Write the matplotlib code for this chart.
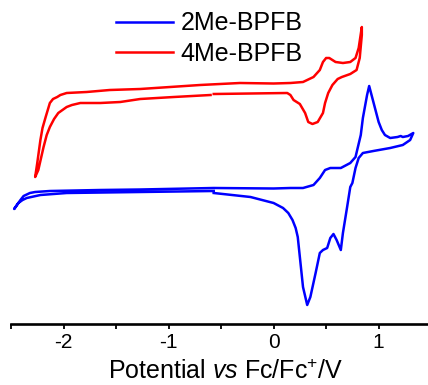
"""
cv_bpfb.py -- cyclic voltammograms of 2Me-BPFB and 4Me-BPFB (vs Fc/Fc+).
Currents are in arbitrary units; the y axis is hidden.
"""
import matplotlib
matplotlib.use("Agg")
import matplotlib.pyplot as plt
from matplotlib.ticker import MultipleLocator

plt.rcParams["font.family"] = ["Liberation Sans", "DejaVu Sans"]
plt.rcParams["mathtext.fontset"] = "custom"
plt.rcParams["mathtext.rm"] = "Liberation Sans"
plt.rcParams["mathtext.it"] = "Liberation Sans:italic"
plt.rcParams["axes.unicode_minus"] = False

# 2Me-BPFB: scan starts at -0.57 V, goes positive, reverses at 1.33 V,
# runs to -2.47 V and comes back to the start
e_2me = [-0.57, -0.22, 0.00, 0.09, 0.14, 0.18, 0.21, 0.23, 0.25, 0.28,
         0.32, 0.35, 0.40, 0.44, 0.47, 0.51, 0.54, 0.57, 0.60, 0.64,
         0.66, 0.70, 0.73, 0.75, 0.78, 0.81, 0.85, 0.95, 1.11, 1.23,
         1.30, 1.33,
         1.28, 1.23, 1.21, 1.18, 1.11, 1.06, 1.03, 1.00, 0.95, 0.91,
         0.89, 0.85, 0.83, 0.78, 0.73, 0.64, 0.54, 0.49, 0.44, 0.38,
         0.28, 0.16, 0.00, -0.57, -1.27, -1.65, -2.13, -2.27, -2.32,
         -2.38, -2.41, -2.47,
         -2.43, -2.39, -2.35, -2.22, -1.97, -1.27, -0.57]
i_2me = [13.1, 12.7, 12.1, 11.6, 11.1, 10.4, 9.6, 8.7, 6.7, 3.7,
         1.9, 2.7, 5.1, 7.1, 7.4, 7.6, 8.6, 9.0, 8.4, 7.4,
         9.1, 11.7, 13.7, 14.1, 15.6, 16.6, 17.1, 17.3, 17.6, 17.9,
         18.4, 19.1,
         18.8, 18.7, 18.8, 18.7, 18.6, 18.9, 19.4, 20.2, 22.2, 23.8,
         22.9, 20.6, 18.9, 16.7, 16.1, 15.6, 15.6, 15.4, 14.6, 13.9,
         13.6, 13.6, 13.55, 13.6, 13.45, 13.4, 13.3, 13.2, 13.1,
         12.8, 12.4, 11.5,
         12.1, 12.4, 12.6, 12.9, 13.1, 13.2, 13.3]

# 4Me-BPFB: same protocol, window -2.27 V to 0.84 V
e_4me = [-0.57, -0.22, 0.13, 0.16, 0.19, 0.25, 0.30, 0.33, 0.37, 0.42,
         0.47, 0.49, 0.52, 0.56, 0.61, 0.65, 0.73, 0.79, 0.82, 0.84,
         0.84, 0.81, 0.78, 0.73, 0.66, 0.59, 0.53, 0.50, 0.47, 0.44,
         0.38, 0.28, 0.16, 0.00, -0.32, -0.70, -1.27, -1.56, -1.78,
         -1.97, -2.03, -2.06, -2.10, -2.13, -2.17, -2.20, -2.22, -2.25,
         -2.27,
         -2.24, -2.19, -2.16, -2.13, -2.09, -2.05, -2.01, -1.97, -1.92,
         -1.84, -1.65, -1.46, -1.27, -0.95, -0.60]
i_4me = [23.0, 23.05, 23.1, 22.9, 22.4, 22.0, 21.1, 20.2, 20.0, 20.2,
         21.1, 22.1, 23.1, 23.9, 24.5, 24.7, 25.0, 25.4, 26.6, 28.9,
         29.7, 27.6, 26.6, 26.2, 26.1, 26.2, 26.6, 26.6, 26.2, 25.4,
         24.7, 24.2, 24.1, 24.05, 24.1, 23.9, 23.5, 23.4, 23.2,
         23.1, 22.9, 22.7, 22.5, 22.1, 20.7, 19.6, 18.4, 16.1,
         14.7,
         15.4, 17.7, 18.9, 19.7, 20.5, 21.1, 21.4, 21.7, 21.9,
         22.1, 22.1, 22.2, 22.5, 22.7, 22.9]

labels = ["2Me-BPFB", "4Me-BPFB"]
colors = ["#0000ff", "#ff0000"]

fig = plt.figure(figsize=(4.28, 3.85), dpi=100)
ax = fig.add_axes([11 / 428, 61 / 385, 417 / 428, 324 / 385])

for e, i, lab, c in zip([e_2me, e_4me], [i_2me, i_4me], labels, colors):
    ax.plot(e, i, color=c, lw=1.8, label=lab, solid_joinstyle="round")

ax.set_xlim(-2.5, 1.47)
ax.set_ylim(0, 32.4)
ax.xaxis.set_major_locator(MultipleLocator(1))
ax.xaxis.set_minor_locator(MultipleLocator(0.5))
ax.tick_params(axis="x", which="both", direction="out", length=3.8,
               width=1.3, labelsize=15, pad=3)
ax.set_yticks([])
for side in ("left", "right", "top"):
    ax.spines[side].set_visible(False)
ax.spines["bottom"].set_linewidth(1.9)

ax.set_xlabel(r"Potential $\mathit{vs}$ Fc/Fc$^{+}$/V", fontsize=18)
ax.xaxis.set_label_coords((226 - 11) / 417, -0.11)

fig.legend(loc="upper left", bbox_to_anchor=(114 / 428, 1 - 9 / 385),
           frameon=False, fontsize=18, handlelength=2.25,
           handletextpad=0.3, labelspacing=0.25, borderpad=0.1,
           borderaxespad=0)

fig.savefig("out.png", dpi=100)
